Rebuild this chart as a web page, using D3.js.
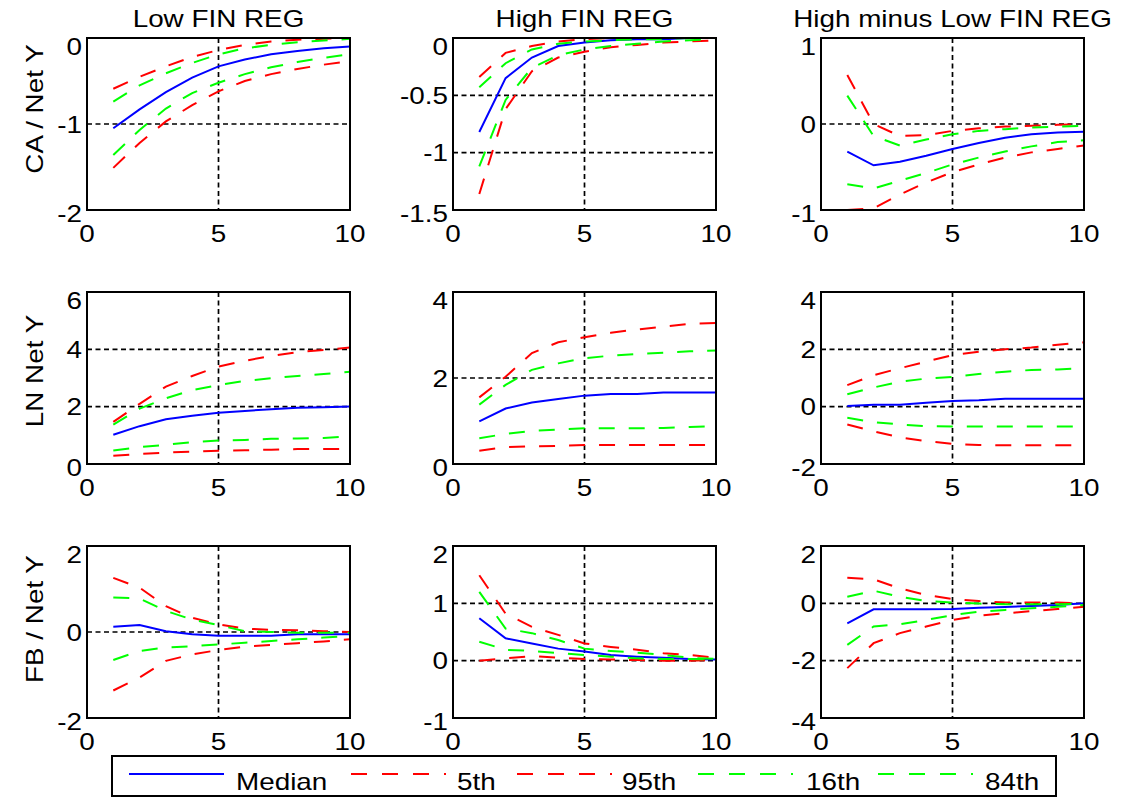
<!DOCTYPE html>
<html>
<head>
<meta charset="utf-8">
<script src="https://cdn.jsdelivr.net/npm/d3@7"></script>
<style>
  html, body { margin: 0; padding: 0; background: #fff; }
  svg { display: block; }
  text { font-family: "Liberation Sans", Arial, Helvetica, sans-serif; fill: #000; }
</style>
</head>
<body>
<svg id="chart" width="1125" height="801"></svg>
<script>
// Impulse-response horizons (quarters after the shock)
const horizons = [1, 2, 3, 4, 5, 6, 7, 8, 9, 10];

const columnTitles = ["Low FIN REG", "High FIN REG", "High minus Low FIN REG"];
const rowLabels = ["CA / Net Y", "LN Net Y", "FB / Net Y"];
const seriesNames = ["Median", "5th", "95th", "16th", "84th"];

const xTicks = [0, 5, 10];

// y-axis ticks, one array per panel
const yTicksCaLow  = [-2, -1, 0];
const yTicksCaHigh = [-1.5, -1, -0.5, 0];
const yTicksCaDiff = [-1, 0, 1];
const yTicksLnLow  = [0, 2, 4, 6];
const yTicksLnHigh = [0, 2, 4];
const yTicksLnDiff = [-2, 0, 2, 4];
const yTicksFbLow  = [-2, 0, 2];
const yTicksFbHigh = [-1, 0, 1, 2];
const yTicksFbDiff = [-4, -2, 0, 2];

// Current account / net income
const caLowMedian = [-1.05, -0.83, -0.63, -0.46, -0.33, -0.25, -0.19, -0.15, -0.12, -0.10];
const caLowP5     = [-1.51, -1.22, -0.97, -0.78, -0.62, -0.50, -0.42, -0.36, -0.31, -0.27];
const caLowP95    = [-0.59, -0.45, -0.33, -0.22, -0.14, -0.08, -0.04, -0.02, -0.01, 0.00];
const caLowP16    = [-1.36, -1.07, -0.82, -0.64, -0.52, -0.42, -0.34, -0.28, -0.23, -0.19];
const caLowP84    = [-0.74, -0.55, -0.41, -0.29, -0.19, -0.12, -0.08, -0.05, -0.03, -0.01];

const caHighMedian = [-0.82, -0.35, -0.17, -0.07, -0.04, -0.02, -0.01, -0.01, 0.00, 0.00];
const caHighP5     = [-1.36, -0.62, -0.29, -0.17, -0.12, -0.08, -0.06, -0.04, -0.03, -0.02];
const caHighP95    = [-0.34, -0.13, -0.07, -0.03, -0.01, 0.00, 0.00, 0.00, 0.00, 0.00];
const caHighP16    = [-1.12, -0.54, -0.26, -0.15, -0.10, -0.07, -0.05, -0.03, -0.02, -0.01];
const caHighP84    = [-0.43, -0.22, -0.10, -0.05, -0.03, -0.02, -0.01, -0.01, 0.00, 0.00];

const caDiffMedian = [-0.32, -0.48, -0.44, -0.37, -0.29, -0.22, -0.16, -0.12, -0.10, -0.09];
const caDiffP5     = [-1.00, -0.98, -0.82, -0.68, -0.56, -0.47, -0.39, -0.33, -0.29, -0.25];
const caDiffP95    = [0.57, 0.00, -0.14, -0.13, -0.08, -0.05, -0.03, -0.02, -0.01, 0.00];
const caDiffP16    = [-0.70, -0.75, -0.66, -0.57, -0.47, -0.39, -0.32, -0.26, -0.21, -0.19];
const caDiffP84    = [0.33, -0.14, -0.25, -0.18, -0.12, -0.08, -0.06, -0.04, -0.03, -0.02];

// Log net income
const lnLowMedian = [1.02, 1.32, 1.56, 1.68, 1.79, 1.85, 1.91, 1.96, 1.98, 2.01];
const lnLowP5     = [0.29, 0.35, 0.40, 0.43, 0.46, 0.48, 0.50, 0.52, 0.52, 0.52];
const lnLowP95    = [1.47, 2.10, 2.70, 3.07, 3.40, 3.60, 3.77, 3.90, 3.98, 4.06];
const lnLowP16    = [0.47, 0.59, 0.67, 0.76, 0.82, 0.84, 0.88, 0.89, 0.91, 0.96];
const lnLowP84    = [1.37, 1.93, 2.29, 2.58, 2.75, 2.90, 2.99, 3.07, 3.14, 3.22];

const lnHighMedian = [0.99, 1.29, 1.43, 1.51, 1.59, 1.63, 1.63, 1.66, 1.66, 1.66];
const lnHighP5     = [0.31, 0.39, 0.41, 0.42, 0.44, 0.44, 0.44, 0.44, 0.44, 0.44];
const lnHighP95    = [1.55, 2.03, 2.58, 2.83, 2.95, 3.05, 3.13, 3.19, 3.26, 3.28];
const lnHighP16    = [0.60, 0.70, 0.77, 0.80, 0.83, 0.83, 0.83, 0.84, 0.86, 0.88];
const lnHighP84    = [1.38, 1.84, 2.19, 2.34, 2.46, 2.52, 2.56, 2.59, 2.62, 2.64];

const lnDiffMedian = [0.02, 0.07, 0.07, 0.14, 0.20, 0.22, 0.28, 0.28, 0.28, 0.28];
const lnDiffP5     = [-0.62, -0.86, -1.07, -1.20, -1.30, -1.34, -1.35, -1.35, -1.35, -1.35];
const lnDiffP95    = [0.75, 1.10, 1.34, 1.57, 1.80, 1.92, 2.00, 2.06, 2.16, 2.24];
const lnDiffP16    = [-0.39, -0.54, -0.62, -0.68, -0.69, -0.69, -0.69, -0.69, -0.69, -0.69];
const lnDiffP84    = [0.43, 0.67, 0.87, 0.98, 1.04, 1.14, 1.22, 1.28, 1.30, 1.34];

// Fiscal balance / net income
const fbLowMedian = [0.12, 0.16, 0.02, -0.05, -0.09, -0.09, -0.09, -0.05, -0.05, -0.05];
const fbLowP5     = [-1.36, -1.06, -0.67, -0.52, -0.42, -0.34, -0.30, -0.26, -0.22, -0.17];
const fbLowP95    = [1.26, 1.03, 0.60, 0.33, 0.18, 0.08, 0.05, 0.04, 0.02, 0.00];
const fbLowP16    = [-0.65, -0.44, -0.36, -0.33, -0.29, -0.25, -0.21, -0.17, -0.13, -0.09];
const fbLowP84    = [0.80, 0.78, 0.49, 0.29, 0.16, 0.02, 0.00, -0.02, -0.02, -0.02];

const fbHighMedian = [0.74, 0.39, 0.30, 0.21, 0.16, 0.10, 0.07, 0.05, 0.03, 0.02];
const fbHighP5     = [0.00, 0.04, 0.08, 0.05, 0.03, 0.02, 0.01, 0.00, 0.00, 0.01];
const fbHighP95    = [1.49, 0.82, 0.59, 0.45, 0.30, 0.24, 0.19, 0.13, 0.10, 0.05];
const fbHighP16    = [0.33, 0.19, 0.17, 0.13, 0.10, 0.07, 0.04, 0.03, 0.03, 0.02];
const fbHighP84    = [1.20, 0.56, 0.48, 0.36, 0.21, 0.17, 0.14, 0.10, 0.05, 0.03];

const fbDiffMedian = [-0.70, -0.21, -0.21, -0.21, -0.20, -0.15, -0.13, -0.09, -0.06, 0.00];
const fbDiffP5     = [-2.26, -1.39, -1.04, -0.81, -0.58, -0.43, -0.35, -0.27, -0.20, -0.12];
const fbDiffP95    = [0.89, 0.84, 0.52, 0.29, 0.15, 0.08, 0.03, 0.03, 0.03, 0.00];
const fbDiffP16    = [-1.45, -0.81, -0.73, -0.58, -0.41, -0.29, -0.23, -0.17, -0.12, -0.06];
const fbDiffP84    = [0.23, 0.44, 0.23, 0.08, 0.03, -0.01, -0.03, -0.03, -0.03, -0.02];

// ---- styling / layout ----
const seriesStyle = [
  { color: "#0000ff", dash: null },
  { color: "#ff0000", dash: "16,14" },
  { color: "#ff0000", dash: "16,14" },
  { color: "#00ff00", dash: "16,14" },
  { color: "#00ff00", dash: "16,14" }
];

const colLeft = [87, 453, 821];
const rowTop = [38, 292, 546];
const panelW = 263;
const panelH = 172;
const fontSize = 24;
const stretch = 1.16;           // the labels use a slightly wide face
const yLabelShift = [-15, -7, -13];

const panels = [
  [
    { ticks: yTicksCaLow,  series: [caLowMedian, caLowP5, caLowP95, caLowP16, caLowP84] },
    { ticks: yTicksCaHigh, series: [caHighMedian, caHighP5, caHighP95, caHighP16, caHighP84] },
    { ticks: yTicksCaDiff, series: [caDiffMedian, caDiffP5, caDiffP95, caDiffP16, caDiffP84] }
  ],
  [
    { ticks: yTicksLnLow,  series: [lnLowMedian, lnLowP5, lnLowP95, lnLowP16, lnLowP84] },
    { ticks: yTicksLnHigh, series: [lnHighMedian, lnHighP5, lnHighP95, lnHighP16, lnHighP84] },
    { ticks: yTicksLnDiff, series: [lnDiffMedian, lnDiffP5, lnDiffP95, lnDiffP16, lnDiffP84] }
  ],
  [
    { ticks: yTicksFbLow,  series: [fbLowMedian, fbLowP5, fbLowP95, fbLowP16, fbLowP84] },
    { ticks: yTicksFbHigh, series: [fbHighMedian, fbHighP5, fbHighP95, fbHighP16, fbHighP84] },
    { ticks: yTicksFbDiff, series: [fbDiffMedian, fbDiffP5, fbDiffP95, fbDiffP16, fbDiffP84] }
  ]
];

const svg = d3.select("#chart");

function label(parent, x, y, str, anchor, rotate) {
  return parent.append("text")
    .attr("transform", `translate(${x},${y})` + (rotate ? ` rotate(${rotate})` : "") + ` scale(${stretch},1)`)
    .attr("text-anchor", anchor)
    .attr("font-size", fontSize)
    .text(str);
}

const fmt = v => String(v);

panels.forEach((row, r) => {
  row.forEach((p, c) => {
    const x0 = colLeft[c], y0 = rowTop[r];
    const ticks = p.ticks;
    const x = d3.scaleLinear().domain([0, 10]).range([x0, x0 + panelW]);
    const y = d3.scaleLinear().domain([ticks[0], ticks[ticks.length - 1]]).range([y0 + panelH, y0]);

    const g = svg.append("g");
    const clipId = `clip-${r}-${c}`;
    g.append("clipPath").attr("id", clipId)
      .append("rect").attr("x", x0).attr("y", y0).attr("width", panelW).attr("height", panelH);

    // dashed grid at the interior ticks
    const grid = g.append("g").attr("stroke", "#000").attr("stroke-width", 1.7)
      .attr("stroke-dasharray", "5,3.5");
    ticks.slice(1, -1).forEach(t => {
      grid.append("line").attr("x1", x0).attr("x2", x0 + panelW)
        .attr("y1", y(t)).attr("y2", y(t));
    });
    xTicks.slice(1, -1).forEach(t => {
      grid.append("line").attr("x1", x(t)).attr("x2", x(t))
        .attr("y1", y0).attr("y2", y0 + panelH);
    });

    // response lines
    const line = d3.line().x((d, i) => x(horizons[i])).y(d => y(d));
    const lines = g.append("g").attr("clip-path", `url(#${clipId})`);
    p.series.forEach((vals, k) => {
      const st = seriesStyle[k];
      lines.append("path")
        .attr("d", line(vals))
        .attr("fill", "none")
        .attr("stroke", st.color)
        .attr("stroke-width", 2)
        .attr("stroke-dasharray", st.dash);
    });

    // frame
    g.append("rect").attr("x", x0).attr("y", y0).attr("width", panelW).attr("height", panelH)
      .attr("fill", "none").attr("stroke", "#000").attr("stroke-width", 2);

    // y tick labels
    ticks.forEach((t, i) => {
      let off = fontSize * 0.36;
      if (i === ticks.length - 1) off += 8;
      if (i === 0) off += 3;
      label(g, x0 - 5, y(t) + off, fmt(t), "end");
    });
    // x tick labels
    xTicks.forEach(t => label(g, x(t), y0 + panelH + 32, fmt(t), "middle"));

    if (r === 0) label(g, x0 + panelW / 2, 27, columnTitles[c], "middle");
    if (c === 0) label(g, 43, y0 + panelH / 2 + yLabelShift[r], rowLabels[r], "middle", -90);
  });
});

// legend
const legend = svg.append("g");
legend.append("rect").attr("x", 112).attr("y", 756).attr("width", 944).attr("height", 40)
  .attr("fill", "#fff").attr("stroke", "#000").attr("stroke-width", 2);
const legendLineX = [129, 351, 517, 698, 878];
const legendTextX = [236, 457, 622, 806, 985];
seriesNames.forEach((name, k) => {
  const st = seriesStyle[k];
  legend.append("line")
    .attr("x1", legendLineX[k]).attr("x2", legendLineX[k] + 95)
    .attr("y1", 774).attr("y2", 774)
    .attr("stroke", st.color).attr("stroke-width", 2)
    .attr("stroke-dasharray", st.dash ? "16,15" : null);
  label(legend, legendTextX[k], 790, name, "start");
});
</script>
</body>
</html>
